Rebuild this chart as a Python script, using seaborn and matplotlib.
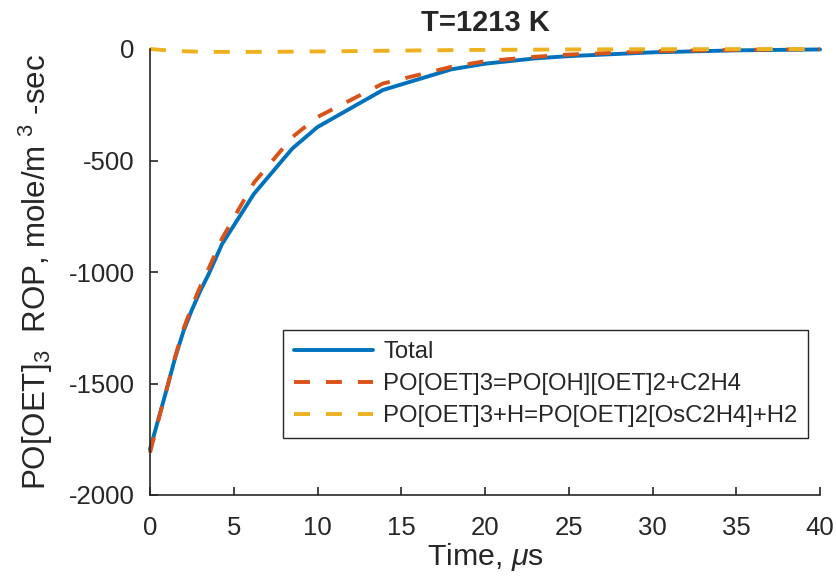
import matplotlib
matplotlib.use("Agg")
import matplotlib.pyplot as plt
import seaborn as sns
import pandas as pd

# Sampling times (microseconds)
time_us = [0, 0.5, 1, 1.5, 2, 2.5, 3, 3.5, 4.3, 6.2, 8.5, 10, 13.9, 18, 20, 23, 25, 30, 35, 40]

# Rate of production of PO[OET]3, mole/m^3-sec
rop_total = [-1795, -1660, -1525, -1385, -1265, -1170, -1085, -1010, -875, -650,
             -446, -350, -184, -91, -66, -42, -32, -15, -6, -2]
rop_r1 = [-1810, -1665, -1525, -1380, -1255, -1155, -1065, -985, -850, -600,
          -395, -305, -155, -80, -55, -35, -25, -10, -4, -1]
rop_r2 = [0, -3, -6, -8, -10, -11, -12, -12.5, -13, -13,
          -12, -11, -8, -5, -4, -3, -2, -1, -0.5, 0]

series_labels = ["Total",
                 "PO[OET]3=PO[OH][OET]2+C2H4",
                 "PO[OET]3+H=PO[OET]2[OsC2H4]+H2"]
series_colors = ["#0072BD", "#D95319", "#EDB120"]

x_ticks = [0, 5, 10, 15, 20, 25, 30, 35, 40]
y_ticks = [-2000, -1500, -1000, -500, 0]

sns.set_style("white")
plt.rcParams["font.family"] = ["Liberation Sans", "DejaVu Sans"]
plt.rcParams["mathtext.fontset"] = "custom"
plt.rcParams["mathtext.rm"] = "Liberation Sans"
plt.rcParams["mathtext.it"] = "Liberation Sans:italic"
plt.rcParams["lines.scale_dashes"] = False

fig = plt.figure(figsize=(8.37, 5.77), dpi=100)
ax = fig.add_axes([150 / 837, 82 / 577, 670 / 837, 446 / 577])

frames = [
    pd.DataFrame({"t": time_us, "rop": vals})
    for vals in (rop_total, rop_r1, rop_r2)
]
styles = ["-", (0, (11.5, 11.5)), (0, (11.5, 11.5))]
for df, lab, col, ls in zip(frames, series_labels, series_colors, styles):
    sns.lineplot(data=df, x="t", y="rop", ax=ax, color=col, linewidth=2.8,
                 linestyle=ls, label=lab, clip_on=False)

ax.set_xlim(0, 40)
ax.set_ylim(-2000, 0)
ax.set_xticks(x_ticks)
ax.set_yticks(y_ticks)
ax.set_xticklabels([str(v) for v in x_ticks])
ax.set_yticklabels([str(v) for v in y_ticks])

for side in ("top", "right"):
    ax.spines[side].set_visible(False)
for side in ("left", "bottom"):
    ax.spines[side].set_color("#262626")
    ax.spines[side].set_linewidth(1.2)

ax.tick_params(axis="both", direction="in", length=6, width=1.2,
               bottom=True, left=True, top=False, right=False,
               color="#262626", labelsize=18.5, labelcolor="#262626")
ax.tick_params(axis="y", pad=11)
ax.tick_params(axis="x", pad=15)

ax.set_title("T=1213 K", fontsize=21, fontweight="bold", pad=13)
ax.set_xlabel(r"Time, $\mu$s", fontsize=21.8, color="#262626", labelpad=1)
ax.set_ylabel(r"PO[OET]$_3$  ROP, mole/m $^3$ -sec", fontsize=22.5,
              color="#262626", labelpad=10)

leg = ax.legend(loc="lower left", bbox_to_anchor=(0.1985, 0.128),
                borderaxespad=0, fontsize=17.2, frameon=True, fancybox=False,
                framealpha=1, edgecolor="#262626", handlelength=3.3,
                handletextpad=0.45, labelspacing=0.42, borderpad=0.45)
leg.get_frame().set_linewidth(1.0)

fig.savefig("out.png", dpi=100)
